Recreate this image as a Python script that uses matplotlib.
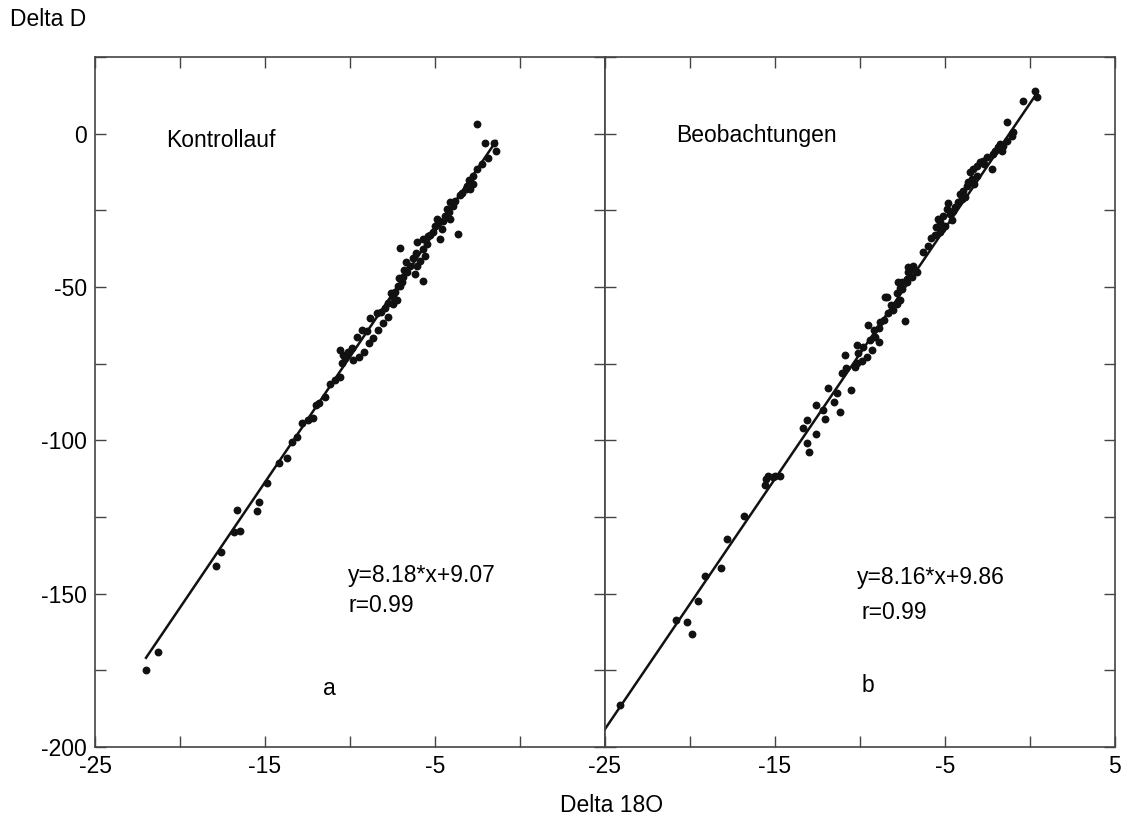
import matplotlib.pyplot as plt
import numpy as np

plt.rcParams['font.family'] = ['Liberation Sans', 'DejaVu Sans']

# panel a: Kontrollauf (delta 18O, delta D)
kon_x = [-22.0, -21.3, -17.9, -17.6, -16.65, -16.8, -16.5, -15.5, -15.35, -14.9,
         -14.2, -13.7, -13.1, -12.8, -12.5, -12.2, -11.8, -11.5, -10.9, -10.6,
         -10.5, -10.3, -10.2, -9.8, -9.5, -9.2, -8.9, -8.65, -8.35, -8.06,
         -7.76, -7.47, -7.24, -7.06, -8.4, -8.8, -9.3, -9.6, -10.1, -10.4,
         -10.6, -2.53, -2.06, -1.53, -1.41, -1.88, -2.24, -2.53, -2.76, -2.94,
         -3.1, -3.2, -2.94, -2.76, -3.65, -4.1, -3.94, -4.3, -4.4, -4.1,
         -4.9, -4.6, -4.7, -5.1, -5.4, -5.7, -6.06, -7.06, -5.7, -5.6,
         -5.9, -6.06, -6.2, -5.7, -6.5, -6.65, -6.9, -6.94, -7.2, -7.35,
         -7.5, -7.76, -7.94, -3.4, -3.8, -4.5, -5.0, -5.3, -6.3, -6.8,
         -3.0, -3.5, -4.2, -4.8, -5.5, -6.1, -6.7, -7.1, -7.6, -8.2,
         -9.0, -9.9, -11.2, -12.0, -13.4]
kon_y = [-175.0, -169.0, -141.0, -136.4, -122.6, -130.0, -129.5, -123.0, -120.0, -113.8,
         -107.5, -105.6, -99.0, -94.4, -93.4, -92.8, -87.9, -85.9, -80.3, -79.3,
         -74.8, -73.1, -72.1, -73.8, -72.8, -71.1, -68.2, -66.6, -63.9, -61.6,
         -59.7, -55.7, -54.1, -49.8, -58.4, -60.0, -63.9, -66.2, -71.1, -72.1,
         -70.5, 3.3, -3.0, -3.0, -5.6, -7.9, -9.8, -11.5, -13.8, -15.4,
         -17.0, -18.0, -18.0, -16.4, -32.8, -22.3, -23.6, -24.6, -26.9, -27.9,
         -27.9, -31.1, -34.4, -32.1, -33.4, -34.4, -35.4, -37.4, -37.7, -40.0,
         -41.6, -43.3, -45.9, -48.2, -43.3, -45.2, -46.6, -48.5, -49.8, -51.5,
         -53.1, -55.1, -56.7, -19.5, -21.8, -28.5, -30.0, -33.0, -40.5, -44.5,
         -15.0, -20.0, -25.5, -29.0, -36.0, -39.0, -42.0, -47.0, -52.0, -58.0,
         -64.5, -70.0, -81.5, -88.5, -100.5]

# panel b: Beobachtungen
beo_x = [-24.1, -20.8, -20.2, -19.9, -19.5, -19.1, -18.2, -17.8, -16.8, -15.6,
         -15.5, -15.1, -14.7, -15.4, -15.0, -13.0, -13.1, -12.6, -13.35, -13.1,
         -12.06, -11.2, -12.6, -12.2, -11.5, -11.35, -11.9, -10.5, -11.06, -10.8,
         -10.3, -10.2, -10.9, -10.1, -10.2, -9.8, -9.6, -9.3, -9.4, -9.1,
         -8.9, -9.5, -9.2, -8.9, -8.6, -8.35, -8.06, -8.5, -7.35, -7.8,
         -7.65, -7.76, -7.5, -7.24, -7.2, -7.2, 0.3, 0.4, -0.4, -1.35,
         -1.0, -1.06, -1.35, -1.6, -1.76, -1.65, -2.06, -2.2, -2.24, -2.5,
         -2.76, -2.94, -3.1, -3.35, -3.5, -3.1, -3.4, -3.65, -3.7, -3.94,
         -4.1, -4.0, -4.24, -4.4, -4.5, -4.7, -4.9, -5.1, -5.3, -5.4,
         -5.5, -5.2, -5.0, -5.3, -6.9, -7.06, -6.94, -7.24, -7.5, -7.65,
         -7.8, -8.4, -6.65, -6.0, -6.3, -5.8, -4.6, -4.8, -5.6, -3.8,
         -3.3, -2.7, -1.9, -8.2, -8.8, -9.9]
beo_y = [-186.2, -158.7, -159.3, -163.0, -152.5, -144.3, -141.6, -132.1, -124.6, -114.4,
         -112.5, -111.8, -111.5, -111.5, -111.5, -103.9, -101.0, -98.0, -96.0, -93.4,
         -93.1, -90.8, -88.5, -90.2, -87.5, -84.6, -83.0, -83.6, -78.0, -76.4,
         -76.0, -74.8, -72.1, -71.5, -68.9, -69.5, -72.8, -70.5, -67.2, -66.2,
         -67.9, -62.3, -63.9, -63.3, -60.7, -58.4, -57.4, -53.4, -61.0, -55.7,
         -54.1, -48.5, -50.8, -48.5, -43.6, -45.2, 13.8, 12.1, 10.5, 3.9,
         0.6, -0.7, -2.3, -3.9, -3.3, -5.6, -5.6, -6.6, -11.5, -7.5,
         -8.9, -9.2, -10.5, -11.5, -12.5, -13.8, -14.8, -15.7, -17.0, -18.7,
         -19.7, -21.3, -22.3, -23.9, -25.2, -26.2, -24.6, -26.9, -28.9, -27.9,
         -30.5, -31.1, -30.2, -32.1, -43.3, -44.3, -46.6, -47.5, -48.5, -50.2,
         -51.8, -53.1, -45.2, -36.5, -38.5, -34.0, -28.0, -22.5, -33.0, -20.5,
         -16.5, -10.0, -4.5, -56.0, -61.5, -74.0]

# regression lines from the labels
kon_fit = (8.18, 9.07)
beo_fit = (8.16, 9.86)
kon_range = [-22.0, -1.4]
beo_range = [-25.0, 0.4]

fig = plt.figure(figsize=(11.22, 8.25), dpi=100)
ax1 = fig.add_axes([0.0847, 0.0945, 0.4545, 0.8364])
ax2 = fig.add_axes([0.5392, 0.0945, 0.4545, 0.8364])


def draw_panel(ax, xs, ys, fit, xr):
    ax.scatter(xs, ys, s=32, color='#111111', zorder=3, linewidths=0)
    lx = np.array(xr)
    ax.plot(lx, fit[0] * lx + fit[1], color='#111111', lw=1.8, zorder=2)
    ax.set_xlim(-25, 5)
    ax.set_ylim(-200, 25)
    ax.set_xticks([-25, -20, -15, -10, -5, 0, 5])
    ax.set_yticks([-200, -175, -150, -125, -100, -75, -50, -25, 0, 25])
    ax.tick_params(direction='in', length=8, width=1.0, color='#444444',
                   top=True, right=True, labelsize=16.5, pad=6)
    for sp in ax.spines.values():
        sp.set_color('#444444')
        sp.set_linewidth(1.2)


draw_panel(ax1, kon_x, kon_y, kon_fit, kon_range)
draw_panel(ax2, beo_x, beo_y, beo_fit, beo_range)

ax1.set_xticklabels(['-25', '', '-15', '', '-5', '', ''])
ax2.set_xticklabels(['-25', '', '-15', '', '-5', '', '5'])
ax1.set_yticklabels(['-200', '', '-150', '', '-100', '', '-50', '', '0', ''])
ax2.set_yticklabels([])

fs = 16.5
ax1.text(-20.8, -2.3, 'Kontrollauf', fontsize=fs, va='center')
ax1.text(-10.1, -144, 'y=8.18*x+9.07', fontsize=fs, va='center')
ax1.text(-10.1, -153.8, 'r=0.99', fontsize=fs, va='center')
ax1.text(-11.6, -181, 'a', fontsize=fs, va='center')

ax2.text(-20.8, -0.7, 'Beobachtungen', fontsize=fs, va='center')
ax2.text(-10.2, -144.6, 'y=8.16*x+9.86', fontsize=fs, va='center')
ax2.text(-9.9, -156, 'r=0.99', fontsize=fs, va='center')
ax2.text(-9.9, -180, 'b', fontsize=fs, va='center')

fig.text(0.009, 0.976, 'Delta D', fontsize=fs, va='center', ha='left')
fig.text(0.545, 0.024, 'Delta 18O', fontsize=fs, va='center', ha='center')

fig.savefig('out.png', dpi=100)
